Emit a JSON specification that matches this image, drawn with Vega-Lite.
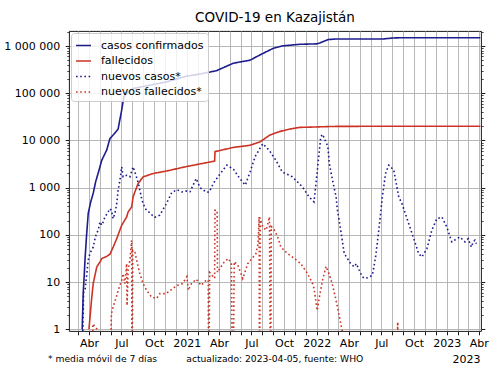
{
  "$schema": "https://vega.github.io/schema/vega-lite/v6.json",
  "width": 412,
  "height": 300,
  "autosize": {"type": "none"},
  "padding": {"left": 69, "top": 31, "right": 19, "bottom": 44},
  "background": "white",
  "title": {"text": "COVID-19 en Kazajistán", "font": "DejaVu Sans", "fontSize": 13.5, "fontWeight": "normal", "color": "black", "anchor": "middle", "offset": 9, "dy": 13, "baseline": "alphabetic"},
  "config": {
    "font": "DejaVu Sans",
    "view": {"stroke": "black", "strokeWidth": 0.9},
    "legend": {"orient": "top-left", "offset": 2, "fillColor": "rgba(255,255,255,0.8)", "strokeColor": "#cccccc", "cornerRadius": 3, "padding": 4, "symbolType": "stroke", "symbolSize": 225, "symbolStrokeWidth": 1.6, "labelFontSize": 11, "labelFont": "DejaVu Sans", "labelColor": "black", "rowPadding": 1.5, "labelOffset": 9}
  },
  "datasets": {
    "covid": [
      {"fecha": "2020-03-13", "valor": 1, "serie": "casos confirmados"},
      {"fecha": "2020-03-16", "valor": 6, "serie": "casos confirmados"},
      {"fecha": "2020-03-19", "valor": 15, "serie": "casos confirmados"},
      {"fecha": "2020-03-21", "valor": 30, "serie": "casos confirmados"},
      {"fecha": "2020-03-25", "valor": 90, "serie": "casos confirmados"},
      {"fecha": "2020-03-30", "valor": 285, "serie": "casos confirmados"},
      {"fecha": "2020-04-06", "valor": 500, "serie": "casos confirmados"},
      {"fecha": "2020-04-13", "valor": 760, "serie": "casos confirmados"},
      {"fecha": "2020-04-20", "valor": 1350, "serie": "casos confirmados"},
      {"fecha": "2020-04-27", "valor": 2040, "serie": "casos confirmados"},
      {"fecha": "2020-05-07", "valor": 3800, "serie": "casos confirmados"},
      {"fecha": "2020-05-21", "valor": 6300, "serie": "casos confirmados"},
      {"fecha": "2020-05-30", "valor": 11000, "serie": "casos confirmados"},
      {"fecha": "2020-06-10", "valor": 13500, "serie": "casos confirmados"},
      {"fecha": "2020-06-22", "valor": 17500, "serie": "casos confirmados"},
      {"fecha": "2020-06-27", "valor": 28000, "serie": "casos confirmados"},
      {"fecha": "2020-07-02", "valor": 44000, "serie": "casos confirmados"},
      {"fecha": "2020-07-08", "valor": 84000, "serie": "casos confirmados"},
      {"fecha": "2020-07-20", "valor": 107000, "serie": "casos confirmados"},
      {"fecha": "2020-08-03", "valor": 126000, "serie": "casos confirmados"},
      {"fecha": "2020-09-19", "valor": 148000, "serie": "casos confirmados"},
      {"fecha": "2020-11-05", "valor": 174000, "serie": "casos confirmados"},
      {"fecha": "2020-12-31", "valor": 230000, "serie": "casos confirmados"},
      {"fecha": "2021-02-07", "valor": 255000, "serie": "casos confirmados"},
      {"fecha": "2021-03-25", "valor": 300000, "serie": "casos confirmados"},
      {"fecha": "2021-05-11", "valor": 430000, "serie": "casos confirmados"},
      {"fecha": "2021-05-30", "valor": 460000, "serie": "casos confirmados"},
      {"fecha": "2021-06-27", "valor": 500000, "serie": "casos confirmados"},
      {"fecha": "2021-07-25", "valor": 645000, "serie": "casos confirmados"},
      {"fecha": "2021-08-31", "valor": 890000, "serie": "casos confirmados"},
      {"fecha": "2021-09-28", "valor": 1010000, "serie": "casos confirmados"},
      {"fecha": "2021-11-14", "valor": 1087000, "serie": "casos confirmados"},
      {"fecha": "2021-12-31", "valor": 1110000, "serie": "casos confirmados"},
      {"fecha": "2022-01-09", "valor": 1160000, "serie": "casos confirmados"},
      {"fecha": "2022-02-02", "valor": 1370000, "serie": "casos confirmados"},
      {"fecha": "2022-02-25", "valor": 1410000, "serie": "casos confirmados"},
      {"fecha": "2022-07-06", "valor": 1410000, "serie": "casos confirmados"},
      {"fecha": "2022-08-03", "valor": 1480000, "serie": "casos confirmados"},
      {"fecha": "2022-09-01", "valor": 1500000, "serie": "casos confirmados"},
      {"fecha": "2023-04-05", "valor": 1500000, "serie": "casos confirmados"},

      {"fecha": "2020-04-01", "valor": 1, "serie": "fallecidos"},
      {"fecha": "2020-04-04", "valor": 1.8, "serie": "fallecidos"},
      {"fecha": "2020-04-09", "valor": 4.8, "serie": "fallecidos"},
      {"fecha": "2020-04-13", "valor": 9.3, "serie": "fallecidos"},
      {"fecha": "2020-04-23", "valor": 21, "serie": "fallecidos"},
      {"fecha": "2020-05-02", "valor": 26.7, "serie": "fallecidos"},
      {"fecha": "2020-05-07", "valor": 31.5, "serie": "fallecidos"},
      {"fecha": "2020-05-21", "valor": 35, "serie": "fallecidos"},
      {"fecha": "2020-05-30", "valor": 39, "serie": "fallecidos"},
      {"fecha": "2020-06-08", "valor": 55, "serie": "fallecidos"},
      {"fecha": "2020-06-18", "valor": 83, "serie": "fallecidos"},
      {"fecha": "2020-07-02", "valor": 160, "serie": "fallecidos"},
      {"fecha": "2020-07-16", "valor": 240, "serie": "fallecidos"},
      {"fecha": "2020-07-20", "valor": 305, "serie": "fallecidos"},
      {"fecha": "2020-07-30", "valor": 390, "serie": "fallecidos"},
      {"fecha": "2020-08-03", "valor": 640, "serie": "fallecidos"},
      {"fecha": "2020-08-08", "valor": 810, "serie": "fallecidos"},
      {"fecha": "2020-08-17", "valor": 1220, "serie": "fallecidos"},
      {"fecha": "2020-08-31", "valor": 1690, "serie": "fallecidos"},
      {"fecha": "2020-09-29", "valor": 2000, "serie": "fallecidos"},
      {"fecha": "2020-11-05", "valor": 2250, "serie": "fallecidos"},
      {"fecha": "2020-12-31", "valor": 2800, "serie": "fallecidos"},
      {"fecha": "2021-03-20", "valor": 3650, "serie": "fallecidos"},
      {"fecha": "2021-03-21", "valor": 5800, "serie": "fallecidos"},
      {"fecha": "2021-05-11", "valor": 7100, "serie": "fallecidos"},
      {"fecha": "2021-06-27", "valor": 7900, "serie": "fallecidos"},
      {"fecha": "2021-07-25", "valor": 9300, "serie": "fallecidos"},
      {"fecha": "2021-08-22", "valor": 13000, "serie": "fallecidos"},
      {"fecha": "2021-09-19", "valor": 15500, "serie": "fallecidos"},
      {"fecha": "2021-10-15", "valor": 17300, "serie": "fallecidos"},
      {"fecha": "2021-11-14", "valor": 18900, "serie": "fallecidos"},
      {"fecha": "2021-12-31", "valor": 19300, "serie": "fallecidos"},
      {"fecha": "2022-02-15", "valor": 19800, "serie": "fallecidos"},
      {"fecha": "2022-06-01", "valor": 19950, "serie": "fallecidos"},
      {"fecha": "2023-04-05", "valor": 19970, "serie": "fallecidos"},

      {"fecha": "2020-03-14", "valor": 0.5, "serie": "nuevos casos*"},
      {"fecha": "2020-03-17", "valor": 6, "serie": "nuevos casos*"},
      {"fecha": "2020-03-21", "valor": 6.7, "serie": "nuevos casos*"},
      {"fecha": "2020-03-25", "valor": 12.8, "serie": "nuevos casos*"},
      {"fecha": "2020-03-30", "valor": 29, "serie": "nuevos casos*"},
      {"fecha": "2020-04-04", "valor": 41, "serie": "nuevos casos*"},
      {"fecha": "2020-04-08", "valor": 47, "serie": "nuevos casos*"},
      {"fecha": "2020-04-13", "valor": 55, "serie": "nuevos casos*"},
      {"fecha": "2020-04-18", "valor": 83, "serie": "nuevos casos*"},
      {"fecha": "2020-04-22", "valor": 106, "serie": "nuevos casos*"},
      {"fecha": "2020-04-27", "valor": 125, "serie": "nuevos casos*"},
      {"fecha": "2020-05-02", "valor": 188, "serie": "nuevos casos*"},
      {"fecha": "2020-05-07", "valor": 160, "serie": "nuevos casos*"},
      {"fecha": "2020-05-11", "valor": 188, "serie": "nuevos casos*"},
      {"fecha": "2020-05-16", "valor": 240, "serie": "nuevos casos*"},
      {"fecha": "2020-05-25", "valor": 305, "serie": "nuevos casos*"},
      {"fecha": "2020-05-30", "valor": 360, "serie": "nuevos casos*"},
      {"fecha": "2020-06-03", "valor": 330, "serie": "nuevos casos*"},
      {"fecha": "2020-06-08", "valor": 220, "serie": "nuevos casos*"},
      {"fecha": "2020-06-13", "valor": 285, "serie": "nuevos casos*"},
      {"fecha": "2020-06-18", "valor": 460, "serie": "nuevos casos*"},
      {"fecha": "2020-06-22", "valor": 880, "serie": "nuevos casos*"},
      {"fecha": "2020-06-27", "valor": 1440, "serie": "nuevos casos*"},
      {"fecha": "2020-07-02", "valor": 2750, "serie": "nuevos casos*"},
      {"fecha": "2020-07-06", "valor": 1700, "serie": "nuevos casos*"},
      {"fecha": "2020-07-16", "valor": 1830, "serie": "nuevos casos*"},
      {"fecha": "2020-07-25", "valor": 1700, "serie": "nuevos casos*"},
      {"fecha": "2020-08-03", "valor": 2750, "serie": "nuevos casos*"},
      {"fecha": "2020-08-08", "valor": 2150, "serie": "nuevos casos*"},
      {"fecha": "2020-08-18", "valor": 1220, "serie": "nuevos casos*"},
      {"fecha": "2020-08-28", "valor": 540, "serie": "nuevos casos*"},
      {"fecha": "2020-09-06", "valor": 360, "serie": "nuevos casos*"},
      {"fecha": "2020-09-20", "valor": 285, "serie": "nuevos casos*"},
      {"fecha": "2020-10-03", "valor": 235, "serie": "nuevos casos*"},
      {"fecha": "2020-10-17", "valor": 262, "serie": "nuevos casos*"},
      {"fecha": "2020-11-04", "valor": 450, "serie": "nuevos casos*"},
      {"fecha": "2020-11-20", "valor": 800, "serie": "nuevos casos*"},
      {"fecha": "2020-12-05", "valor": 900, "serie": "nuevos casos*"},
      {"fecha": "2020-12-18", "valor": 810, "serie": "nuevos casos*"},
      {"fecha": "2020-12-30", "valor": 850, "serie": "nuevos casos*"},
      {"fecha": "2021-01-10", "valor": 820, "serie": "nuevos casos*"},
      {"fecha": "2021-01-27", "valor": 1560, "serie": "nuevos casos*"},
      {"fecha": "2021-02-07", "valor": 1000, "serie": "nuevos casos*"},
      {"fecha": "2021-02-25", "valor": 800, "serie": "nuevos casos*"},
      {"fecha": "2021-03-05", "valor": 810, "serie": "nuevos casos*"},
      {"fecha": "2021-03-17", "valor": 1250, "serie": "nuevos casos*"},
      {"fecha": "2021-04-02", "valor": 1850, "serie": "nuevos casos*"},
      {"fecha": "2021-04-23", "valor": 3000, "serie": "nuevos casos*"},
      {"fecha": "2021-05-12", "valor": 2450, "serie": "nuevos casos*"},
      {"fecha": "2021-05-30", "valor": 1550, "serie": "nuevos casos*"},
      {"fecha": "2021-06-14", "valor": 1130, "serie": "nuevos casos*"},
      {"fecha": "2021-06-28", "valor": 2200, "serie": "nuevos casos*"},
      {"fecha": "2021-07-12", "valor": 4600, "serie": "nuevos casos*"},
      {"fecha": "2021-08-02", "valor": 8500, "serie": "nuevos casos*"},
      {"fecha": "2021-08-20", "valor": 6240, "serie": "nuevos casos*"},
      {"fecha": "2021-09-08", "valor": 3800, "serie": "nuevos casos*"},
      {"fecha": "2021-09-26", "valor": 2150, "serie": "nuevos casos*"},
      {"fecha": "2021-10-24", "valor": 1700, "serie": "nuevos casos*"},
      {"fecha": "2021-11-21", "valor": 1050, "serie": "nuevos casos*"},
      {"fecha": "2021-12-10", "valor": 640, "serie": "nuevos casos*"},
      {"fecha": "2021-12-24", "valor": 500, "serie": "nuevos casos*"},
      {"fecha": "2022-01-02", "valor": 2150, "serie": "nuevos casos*"},
      {"fecha": "2022-01-12", "valor": 11900, "serie": "nuevos casos*"},
      {"fecha": "2022-01-17", "valor": 13500, "serie": "nuevos casos*"},
      {"fecha": "2022-02-01", "valor": 7400, "serie": "nuevos casos*"},
      {"fecha": "2022-02-05", "valor": 3250, "serie": "nuevos casos*"},
      {"fecha": "2022-02-14", "valor": 1440, "serie": "nuevos casos*"},
      {"fecha": "2022-02-24", "valor": 640, "serie": "nuevos casos*"},
      {"fecha": "2022-02-28", "valor": 330, "serie": "nuevos casos*"},
      {"fecha": "2022-03-09", "valor": 126, "serie": "nuevos casos*"},
      {"fecha": "2022-03-19", "valor": 40, "serie": "nuevos casos*"},
      {"fecha": "2022-03-28", "valor": 31.5, "serie": "nuevos casos*"},
      {"fecha": "2022-04-06", "valor": 24.6, "serie": "nuevos casos*"},
      {"fecha": "2022-04-16", "valor": 21, "serie": "nuevos casos*"},
      {"fecha": "2022-04-22", "valor": 24.6, "serie": "nuevos casos*"},
      {"fecha": "2022-04-30", "valor": 17.8, "serie": "nuevos casos*"},
      {"fecha": "2022-05-09", "valor": 12.8, "serie": "nuevos casos*"},
      {"fecha": "2022-05-18", "valor": 11.9, "serie": "nuevos casos*"},
      {"fecha": "2022-05-28", "valor": 12.8, "serie": "nuevos casos*"},
      {"fecha": "2022-06-06", "valor": 14, "serie": "nuevos casos*"},
      {"fecha": "2022-06-15", "valor": 34, "serie": "nuevos casos*"},
      {"fecha": "2022-06-24", "valor": 126, "serie": "nuevos casos*"},
      {"fecha": "2022-07-04", "valor": 640, "serie": "nuevos casos*"},
      {"fecha": "2022-07-13", "valor": 2000, "serie": "nuevos casos*"},
      {"fecha": "2022-07-22", "valor": 3000, "serie": "nuevos casos*"},
      {"fecha": "2022-08-05", "valor": 2350, "serie": "nuevos casos*"},
      {"fecha": "2022-08-19", "valor": 640, "serie": "nuevos casos*"},
      {"fecha": "2022-08-28", "valor": 460, "serie": "nuevos casos*"},
      {"fecha": "2022-09-16", "valor": 173, "serie": "nuevos casos*"},
      {"fecha": "2022-10-05", "valor": 65, "serie": "nuevos casos*"},
      {"fecha": "2022-10-14", "valor": 40, "serie": "nuevos casos*"},
      {"fecha": "2022-10-23", "valor": 34, "serie": "nuevos casos*"},
      {"fecha": "2022-11-06", "valor": 51, "serie": "nuevos casos*"},
      {"fecha": "2022-11-20", "valor": 126, "serie": "nuevos casos*"},
      {"fecha": "2022-12-04", "valor": 220, "serie": "nuevos casos*"},
      {"fecha": "2022-12-18", "valor": 240, "serie": "nuevos casos*"},
      {"fecha": "2023-01-01", "valor": 147, "serie": "nuevos casos*"},
      {"fecha": "2023-01-15", "valor": 71, "serie": "nuevos casos*"},
      {"fecha": "2023-01-29", "valor": 83, "serie": "nuevos casos*"},
      {"fecha": "2023-02-07", "valor": 90, "serie": "nuevos casos*"},
      {"fecha": "2023-02-21", "valor": 71, "serie": "nuevos casos*"},
      {"fecha": "2023-03-02", "valor": 83, "serie": "nuevos casos*"},
      {"fecha": "2023-03-11", "valor": 55, "serie": "nuevos casos*"},
      {"fecha": "2023-03-16", "valor": 71, "serie": "nuevos casos*"},
      {"fecha": "2023-03-21", "valor": 77, "serie": "nuevos casos*"},
      {"fecha": "2023-03-25", "valor": 65, "serie": "nuevos casos*"},

      {"fecha": "2020-04-10", "valor": 0.01, "serie": "nuevos fallecidos*"},
      {"fecha": "2020-04-12", "valor": 1.3, "serie": "nuevos fallecidos*"},
      {"fecha": "2020-04-18", "valor": 1.15, "serie": "nuevos fallecidos*"},
      {"fecha": "2020-04-24", "valor": 1.0, "serie": "nuevos fallecidos*"},
      {"fecha": "2020-04-26", "valor": 0.01, "serie": "nuevos fallecidos*"},
      {"fecha": "2020-05-28", "valor": 0.01, "serie": "nuevos fallecidos*"},
      {"fecha": "2020-06-03", "valor": 2.1, "serie": "nuevos fallecidos*"},
      {"fecha": "2020-06-08", "valor": 3, "serie": "nuevos fallecidos*"},
      {"fecha": "2020-06-17", "valor": 4.8, "serie": "nuevos fallecidos*"},
      {"fecha": "2020-06-22", "valor": 6.7, "serie": "nuevos fallecidos*"},
      {"fecha": "2020-06-27", "valor": 8.5, "serie": "nuevos fallecidos*"},
      {"fecha": "2020-07-02", "valor": 10.9, "serie": "nuevos fallecidos*"},
      {"fecha": "2020-07-06", "valor": 15, "serie": "nuevos fallecidos*"},
      {"fecha": "2020-07-11", "valor": 9.3, "serie": "nuevos fallecidos*"},
      {"fecha": "2020-07-16", "valor": 24.6, "serie": "nuevos fallecidos*"},
      {"fecha": "2020-07-17", "valor": 3.2, "serie": "nuevos fallecidos*"},
      {"fecha": "2020-07-20", "valor": 17.8, "serie": "nuevos fallecidos*"},
      {"fecha": "2020-07-25", "valor": 29, "serie": "nuevos fallecidos*"},
      {"fecha": "2020-07-30", "valor": 77, "serie": "nuevos fallecidos*"},
      {"fecha": "2020-07-31", "valor": 0.01, "serie": "nuevos fallecidos*"},
      {"fecha": "2020-08-02", "valor": 47, "serie": "nuevos fallecidos*"},
      {"fecha": "2020-08-08", "valor": 43, "serie": "nuevos fallecidos*"},
      {"fecha": "2020-08-13", "valor": 29, "serie": "nuevos fallecidos*"},
      {"fecha": "2020-08-22", "valor": 15, "serie": "nuevos fallecidos*"},
      {"fecha": "2020-08-31", "valor": 9.3, "serie": "nuevos fallecidos*"},
      {"fecha": "2020-09-10", "valor": 6.7, "serie": "nuevos fallecidos*"},
      {"fecha": "2020-09-24", "valor": 4.8, "serie": "nuevos fallecidos*"},
      {"fecha": "2020-10-08", "valor": 4.5, "serie": "nuevos fallecidos*"},
      {"fecha": "2020-10-17", "valor": 5.7, "serie": "nuevos fallecidos*"},
      {"fecha": "2020-11-04", "valor": 5.7, "serie": "nuevos fallecidos*"},
      {"fecha": "2020-11-16", "valor": 6.7, "serie": "nuevos fallecidos*"},
      {"fecha": "2020-12-05", "valor": 8.5, "serie": "nuevos fallecidos*"},
      {"fecha": "2020-12-20", "valor": 9.3, "serie": "nuevos fallecidos*"},
      {"fecha": "2021-01-01", "valor": 13, "serie": "nuevos fallecidos*"},
      {"fecha": "2021-01-05", "valor": 6.7, "serie": "nuevos fallecidos*"},
      {"fecha": "2021-01-14", "valor": 9.3, "serie": "nuevos fallecidos*"},
      {"fecha": "2021-01-27", "valor": 11.5, "serie": "nuevos fallecidos*"},
      {"fecha": "2021-02-10", "valor": 8.5, "serie": "nuevos fallecidos*"},
      {"fecha": "2021-02-24", "valor": 10.9, "serie": "nuevos fallecidos*"},
      {"fecha": "2021-03-02", "valor": 11, "serie": "nuevos fallecidos*"},
      {"fecha": "2021-03-03", "valor": 0.01, "serie": "nuevos fallecidos*"},
      {"fecha": "2021-03-06", "valor": 16, "serie": "nuevos fallecidos*"},
      {"fecha": "2021-03-20", "valor": 12, "serie": "nuevos fallecidos*"},
      {"fecha": "2021-03-21", "valor": 330, "serie": "nuevos fallecidos*"},
      {"fecha": "2021-03-27", "valor": 330, "serie": "nuevos fallecidos*"},
      {"fecha": "2021-03-28", "valor": 16, "serie": "nuevos fallecidos*"},
      {"fecha": "2021-04-13", "valor": 25, "serie": "nuevos fallecidos*"},
      {"fecha": "2021-04-27", "valor": 31.5, "serie": "nuevos fallecidos*"},
      {"fecha": "2021-05-06", "valor": 25, "serie": "nuevos fallecidos*"},
      {"fecha": "2021-05-10", "valor": 0.01, "serie": "nuevos fallecidos*"},
      {"fecha": "2021-05-14", "valor": 27, "serie": "nuevos fallecidos*"},
      {"fecha": "2021-05-24", "valor": 23, "serie": "nuevos fallecidos*"},
      {"fecha": "2021-06-07", "valor": 11.9, "serie": "nuevos fallecidos*"},
      {"fecha": "2021-06-21", "valor": 24.6, "serie": "nuevos fallecidos*"},
      {"fecha": "2021-07-14", "valor": 40, "serie": "nuevos fallecidos*"},
      {"fecha": "2021-07-20", "valor": 65, "serie": "nuevos fallecidos*"},
      {"fecha": "2021-07-23", "valor": 240, "serie": "nuevos fallecidos*"},
      {"fecha": "2021-07-24", "valor": 0.01, "serie": "nuevos fallecidos*"},
      {"fecha": "2021-07-26", "valor": 230, "serie": "nuevos fallecidos*"},
      {"fecha": "2021-08-02", "valor": 147, "serie": "nuevos fallecidos*"},
      {"fecha": "2021-08-12", "valor": 126, "serie": "nuevos fallecidos*"},
      {"fecha": "2021-08-21", "valor": 240, "serie": "nuevos fallecidos*"},
      {"fecha": "2021-08-24", "valor": 0.01, "serie": "nuevos fallecidos*"},
      {"fecha": "2021-08-26", "valor": 150, "serie": "nuevos fallecidos*"},
      {"fecha": "2021-09-04", "valor": 126, "serie": "nuevos fallecidos*"},
      {"fecha": "2021-09-13", "valor": 90, "serie": "nuevos fallecidos*"},
      {"fecha": "2021-09-22", "valor": 55, "serie": "nuevos fallecidos*"},
      {"fecha": "2021-10-11", "valor": 40, "serie": "nuevos fallecidos*"},
      {"fecha": "2021-10-30", "valor": 31.5, "serie": "nuevos fallecidos*"},
      {"fecha": "2021-11-17", "valor": 24.6, "serie": "nuevos fallecidos*"},
      {"fecha": "2021-12-06", "valor": 15, "serie": "nuevos fallecidos*"},
      {"fecha": "2021-12-20", "valor": 9.3, "serie": "nuevos fallecidos*"},
      {"fecha": "2021-12-24", "valor": 7.4, "serie": "nuevos fallecidos*"},
      {"fecha": "2021-12-29", "valor": 4.1, "serie": "nuevos fallecidos*"},
      {"fecha": "2022-01-02", "valor": 2.5, "serie": "nuevos fallecidos*"},
      {"fecha": "2022-01-08", "valor": 4.8, "serie": "nuevos fallecidos*"},
      {"fecha": "2022-01-17", "valor": 11, "serie": "nuevos fallecidos*"},
      {"fecha": "2022-01-27", "valor": 21.5, "serie": "nuevos fallecidos*"},
      {"fecha": "2022-02-04", "valor": 15, "serie": "nuevos fallecidos*"},
      {"fecha": "2022-02-13", "valor": 9.3, "serie": "nuevos fallecidos*"},
      {"fecha": "2022-02-22", "valor": 4.8, "serie": "nuevos fallecidos*"},
      {"fecha": "2022-03-04", "valor": 2.1, "serie": "nuevos fallecidos*"},
      {"fecha": "2022-03-13", "valor": 0.95, "serie": "nuevos fallecidos*"},
      {"fecha": "2022-03-15", "valor": 0.01, "serie": "nuevos fallecidos*"},
      {"fecha": "2022-08-14", "valor": 0.01, "serie": "nuevos fallecidos*"},
      {"fecha": "2022-08-16", "valor": 1.43, "serie": "nuevos fallecidos*"},
      {"fecha": "2022-08-18", "valor": 0.01, "serie": "nuevos fallecidos*"}
    ]
  },
  "data": {"name": "covid"},
  "encoding": {
    "x": {
      "field": "fecha", "type": "temporal",
      "scale": {"type": "utc", "domain": [{"year": 2020, "month": 2, "date": 5, "utc": true}, {"year": 2023, "month": 4, "date": 7, "utc": true}]},
      "axis": {
        "grid": true, "gridColor": "#b0b0b0", "gridWidth": 0.9,
        "tickCount": {"interval": "month", "step": 1},
        "labelExpr": "utcmonth(datum.value) == 0 ? '' + utcyear(datum.value) : utcmonth(datum.value) == 3 ? 'Abr' : utcmonth(datum.value) == 6 ? 'Jul' : utcmonth(datum.value) == 9 ? 'Oct' : ''",
        "labelOverlap": false, "labelFontSize": 11, "labelColor": "black", "labelFont": "DejaVu Sans", "labelPadding": 3,
        "tickColor": "black", "tickSize": 3.8, "tickWidth": 0.9, "domain": false,
        "title": "* media móvil de 7 días\u00a0\u00a0\u00a0\u00a0\u00a0\u00a0\u00a0\u00a0\u00a0 actualizado: 2023-04-05, fuente: WHO",
        "titleFont": "DejaVu Sans", "titleFontSize": 9.2, "titleFontWeight": "normal", "titleColor": "black",
        "titleX": -21.5, "titleY": 30, "titleAlign": "left", "titleAnchor": "start", "titleBaseline": "alphabetic"
      }
    },
    "color": {
      "field": "serie", "type": "nominal",
      "scale": {"domain": ["casos confirmados", "fallecidos", "nuevos casos*", "nuevos fallecidos*"], "range": ["#1c1c8c", "#cc3325", "#1c1c8c", "#cc3325"]},
      "legend": {"title": null}
    },
    "strokeDash": {
      "field": "serie", "type": "nominal",
      "scale": {"domain": ["casos confirmados", "fallecidos", "nuevos casos*", "nuevos fallecidos*"], "range": [[1, 0], [1, 0], [1.6, 2.6], [1.6, 2.6]]},
      "legend": {"title": null}
    }
  },
  "layer": [
    {
      "transform": [{"filter": "datum.serie == 'casos confirmados' || datum.serie == 'fallecidos'"}],
      "mark": {"type": "line", "strokeWidth": 1.6, "clip": true},
      "encoding": {
        "y": {
          "field": "valor", "type": "quantitative",
          "scale": {"type": "log", "domain": [0.92, 2080000], "nice": false},
          "axis": {
            "orient": "left", "values": [1, 10, 100, 1000, 10000, 100000, 1000000],
            "labelExpr": "replace(replace(format(datum.value, ','), ',', ' '), ',', ' ')",
            "grid": true, "gridColor": "#b0b0b0", "gridWidth": 0.9,
            "tickColor": "black", "tickSize": 3.8, "tickWidth": 0.9,
            "labelFontSize": 11, "labelColor": "black", "labelFont": "DejaVu Sans", "labelPadding": 5.5,
            "domain": false, "title": null
          }
        }
      }
    },
    {
      "transform": [{"filter": "datum.serie == 'nuevos casos*' || datum.serie == 'nuevos fallecidos*'"}],
      "mark": {"type": "line", "strokeWidth": 1.6, "clip": true},
      "encoding": {
        "y": {
          "field": "valor", "type": "quantitative",
          "scale": {"type": "log", "domain": [0.92, 2080000], "nice": false},
          "axis": {
            "orient": "right", "values": [1, 10, 100, 1000, 10000, 100000, 1000000],
            "labels": false, "grid": false,
            "tickColor": "black", "tickSize": 3.8, "tickWidth": 0.9, "domain": false,
            "title": "2023", "titleFont": "DejaVu Sans", "titleFontSize": 11, "titleFontWeight": "normal", "titleColor": "black",
            "titleAngle": 0, "titleX": -1, "titleY": 331, "titleAlign": "right", "titleBaseline": "alphabetic"
          }
        }
      }
    },
    {
      "transform": [{"filter": "false"}],
      "mark": {"type": "line", "clip": true},
      "encoding": {
        "y": {
          "field": "valor", "type": "quantitative",
          "scale": {"type": "log", "domain": [0.92, 2080000], "nice": false},
          "axis": {
            "orient": "left", "values": [2, 3, 4, 5, 6, 7, 8, 9, 20, 30, 40, 50, 60, 70, 80, 90, 200, 300, 400, 500, 600, 700, 800, 900, 2000, 3000, 4000, 5000, 6000, 7000, 8000, 9000, 20000, 30000, 40000, 50000, 60000, 70000, 80000, 90000, 200000, 300000, 400000, 500000, 600000, 700000, 800000, 900000, 2000000],
            "labels": false, "grid": false, "tickColor": "black", "tickSize": 2.2, "tickWidth": 0.7, "domain": false, "title": null
          }
        }
      }
    },
    {
      "transform": [{"filter": "false"}],
      "mark": {"type": "line", "clip": true},
      "encoding": {
        "y": {
          "field": "valor", "type": "quantitative",
          "scale": {"type": "log", "domain": [0.92, 2080000], "nice": false},
          "axis": {
            "orient": "right", "values": [2, 3, 4, 5, 6, 7, 8, 9, 20, 30, 40, 50, 60, 70, 80, 90, 200, 300, 400, 500, 600, 700, 800, 900, 2000, 3000, 4000, 5000, 6000, 7000, 8000, 9000, 20000, 30000, 40000, 50000, 60000, 70000, 80000, 90000, 200000, 300000, 400000, 500000, 600000, 700000, 800000, 900000, 2000000],
            "labels": false, "grid": false, "tickColor": "black", "tickSize": 2.2, "tickWidth": 0.7, "domain": false, "title": null
          }
        }
      }
    }
  ],
  "resolve": {"axis": {"y": "independent"}}
}
